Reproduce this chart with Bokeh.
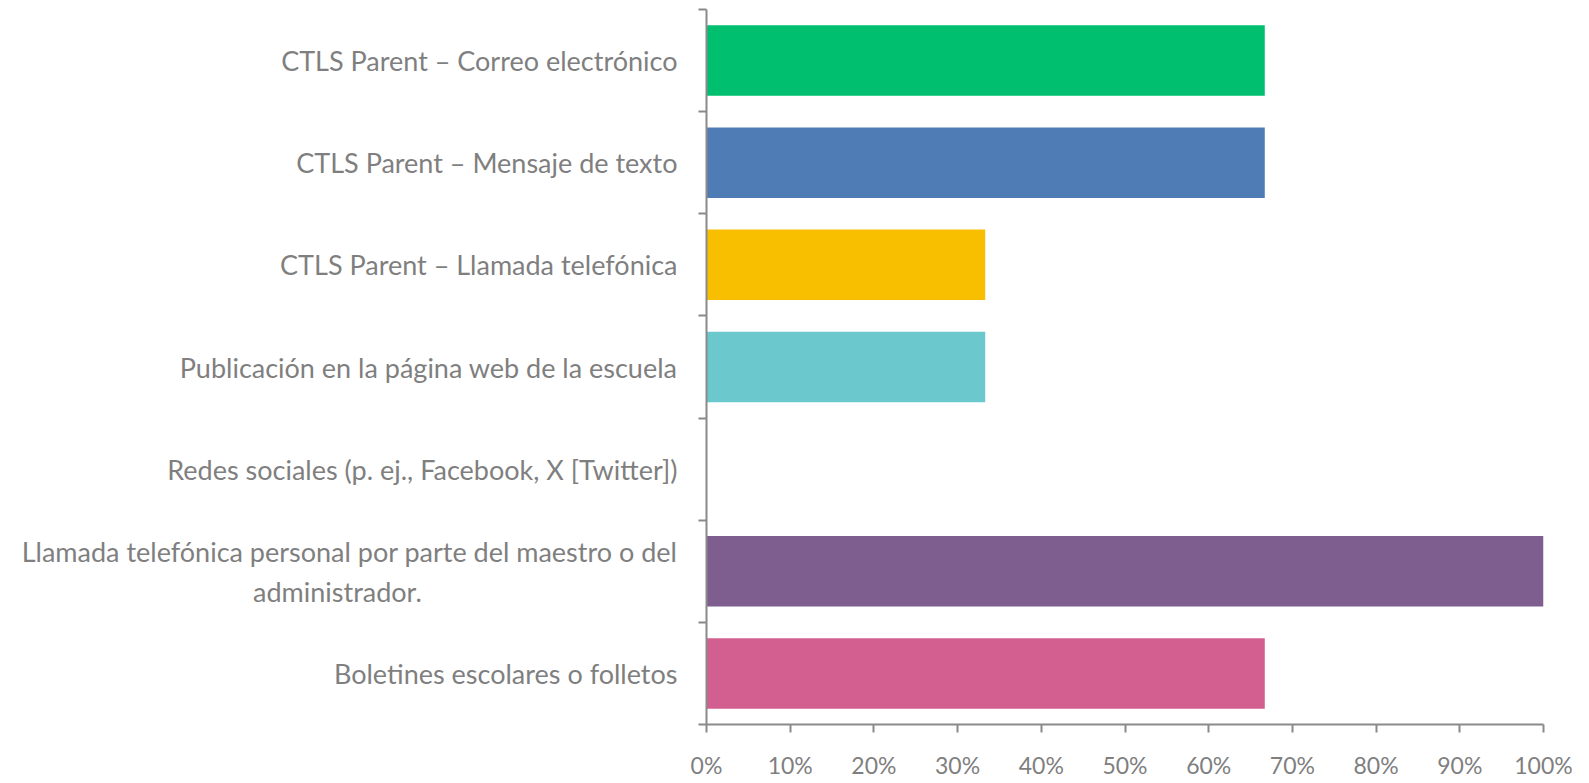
from bokeh.plotting import figure
from bokeh.models import FixedTicker, NumeralTickFormatter, Range1d, ColumnDataSource
from bokeh.embed import file_html
from bokeh.resources import INLINE

NBSP = "\u00a0"
categories = [
    "CTLS Parent – Correo electrónico",
    "CTLS Parent – Mensaje de texto",
    "CTLS Parent – Llamada telefónica",
    "Publicación en la página web de la escuela",
    "Redes sociales (p. ej., Facebook, X [Twitter])",
    "Llamada telefónica personal por parte del maestro o del\nadministrador." + NBSP * 37,
    "Boletines escolares o folletos",
]
values = [0.667, 0.667, 0.333, 0.333, 0.0, 1.0, 0.667]
colors = ["#00BF6F", "#507CB6", "#F8BE00", "#6BC8CD", "#A7A7A7", "#7D5E8F", "#D25F90"]
x_ticks = [i / 10 for i in range(11)]

n = len(categories)
ypos = [n - i - 0.5 for i in range(n)]

src = ColumnDataSource(dict(y=ypos, v=values, c=colors))

FONT = "Lato"
TXT = "#7F7F7F"
AX = "#8A8A8A"

p = figure(width=1585, height=781, output_backend="svg", toolbar_location=None,
           x_range=Range1d(0, 1), y_range=Range1d(0, n),
           min_border_left=706, min_border_right=42, min_border_top=9, min_border_bottom=51)
p.outline_line_color = None
p.grid.visible = False

p.hbar(y="y", right="v", left=0, height=0.69, color="c", source=src, line_color=None)

p.xaxis.ticker = FixedTicker(ticks=x_ticks)
p.xaxis.formatter = NumeralTickFormatter(format="0%")
p.xaxis.major_tick_out = 8
p.xaxis.major_tick_in = 0
p.xaxis.minor_tick_line_color = None
p.xaxis.axis_line_color = AX
p.xaxis.axis_line_width = 2
p.xaxis.major_tick_line_color = AX
p.xaxis.major_tick_line_width = 2
p.xaxis.major_label_text_font = FONT
p.xaxis.major_label_text_font_size = "23px"
p.xaxis.major_label_text_color = TXT
p.xaxis.major_label_standoff = 18

p.yaxis.ticker = FixedTicker(ticks=ypos, minor_ticks=list(range(n + 1)))
p.yaxis.major_label_overrides = {y: c for y, c in zip(ypos, categories)}
p.yaxis.major_tick_out = 0
p.yaxis.major_tick_in = 0
p.yaxis.minor_tick_out = 8
p.yaxis.minor_tick_in = 0
p.yaxis.minor_tick_line_color = AX
p.yaxis.minor_tick_line_width = 2
p.yaxis.axis_line_color = AX
p.yaxis.axis_line_width = 2
p.yaxis.major_label_text_font = FONT
p.yaxis.major_label_text_font_size = "27px"
p.yaxis.major_label_text_color = TXT
p.yaxis.major_label_standoff = 21

open("out.html", "w").write(file_html(p, INLINE))
